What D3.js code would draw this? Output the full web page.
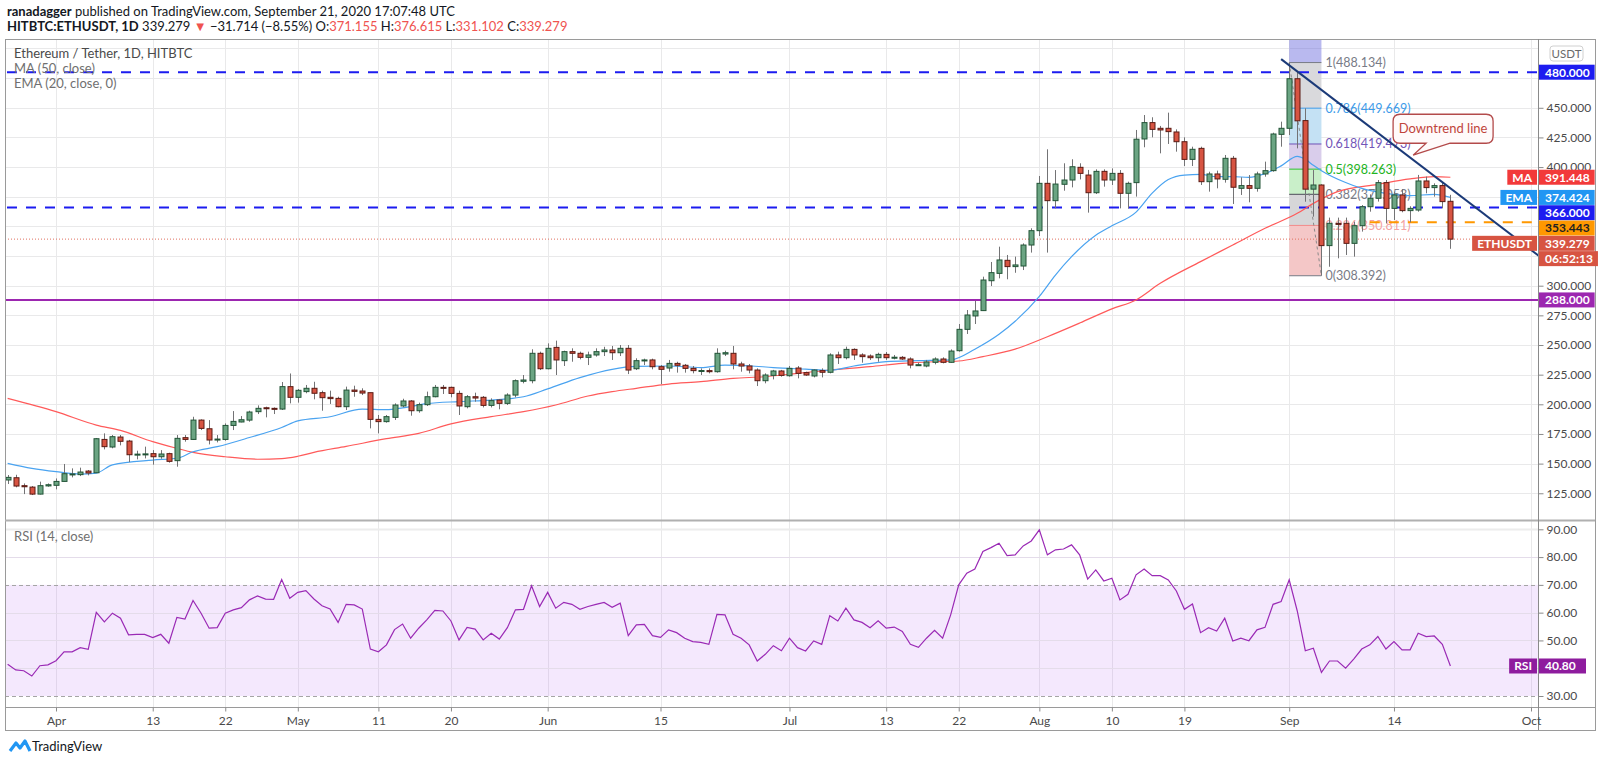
<!DOCTYPE html>
<html>
<head>
<meta charset="utf-8">
<script src="https://cdn.jsdelivr.net/npm/d3@7"></script>
<style>
  body { margin: 0; background: #fff; }
  svg { display: block; }
  text { font-family: Lato, "Open Sans", sans-serif; }
</style>
</head>
<body>
<svg id="chart" width="1600" height="763"></svg>
<script>
// ---- data (HITBTC ETH/USDT daily, 26 Mar - 21 Sep 2020) ----
const firstDay = "2020-03-26", lastDay = "2020-09-21";

const opens = [
  136.2, 138.1, 131.4, 130.2, 124.3, 131.2,
  131.7, 135.0, 141.0, 140.7, 143.7, 142.3, 170.4, 164.0, 172.4, 169.0, 157.5, 157.8, 158.4, 155.8, 158.4, 152.5, 171.9, 170.4, 186.7, 179.4, 170.4, 170.4, 182.2, 185.1, 186.7, 193.8, 197.1, 196.6, 196.0, 214.9,
  205.9, 210.7, 213.5, 209.8, 205.9, 205.0, 198.0, 212.0, 211.2, 209.8, 187.3, 185.4, 189.0, 198.6, 202.8, 194.6, 199.7, 206.4, 214.3, 214.3, 209.2, 198.0, 206.4, 205.9, 199.1, 203.6, 200.8, 207.8, 219.4, 219.9, 243.0,
  230.0, 248.0, 236.8, 244.4, 243.0, 239.6, 241.6, 244.4, 245.8, 243.5, 247.2, 230.0, 237.0, 237.4, 231.7, 230.6, 234.5, 232.9, 230.3, 228.4, 228.4, 227.5, 242.4, 243.0, 234.0, 232.3, 228.9, 219.9, 224.4, 228.1,
  224.1, 230.6, 226.7, 223.9, 228.4, 227.0, 241.6, 239.3, 246.3, 241.6, 240.7, 239.3, 242.1, 239.5, 239.6, 238.2, 233.1, 232.3, 235.4, 238.2, 235.4, 245.2, 263.2, 274.5, 279.0, 304.2, 310.4, 321.4, 316.1, 316.6, 334.3,
  346.4, 386.3, 371.7, 385.5, 389.1, 399.8, 393.3, 378.4, 396.4, 389.1, 394.7, 377.9, 386.9, 423.7, 437.5, 432.7, 432.7, 429.6, 421.4, 406.5, 415.8, 387.7, 394.2, 389.7, 407.4, 382.1, 384.4, 382.1, 394.2, 397.0, 427.6,
  432.7, 474.5, 439.2, 381.4, 384.9, 333.8, 352.6, 352.6, 335.7, 350.6, 366.6, 373.7, 386.9, 365.2, 376.5, 363.3, 363.8, 388.3, 382.7, 384.4, 371.155
];
const highs = [
  140.4, 140.6, 133.3, 131.1, 134.8, 133.3,
  137.5, 149.7, 146.0, 146.6, 144.6, 171.6, 175.5, 174.1, 174.1, 170.0, 160.9, 164.3, 161.4, 161.4, 159.2, 174.1, 174.1, 189.5, 187.3, 186.7, 174.1, 183.9, 194.3, 190.1, 194.6, 199.1, 198.0, 197.4, 218.8, 226.0,
  212.9, 216.3, 219.0, 211.5, 211.5, 206.4, 214.9, 215.7, 213.5, 209.8, 191.0, 191.0, 200.8, 204.7, 203.6, 201.4, 210.7, 216.3, 216.3, 214.9, 211.5, 207.8, 209.8, 207.0, 205.0, 204.2, 209.3, 221.0, 224.7, 246.4, 244.4,
  251.4, 253.7, 245.2, 247.2, 244.4, 244.4, 247.2, 248.5, 249.2, 250.0, 250.0, 238.8, 238.5, 238.5, 233.1, 237.4, 235.9, 234.0, 232.3, 230.3, 230.3, 247.2, 245.2, 249.2, 235.9, 234.0, 230.3, 226.1, 229.0, 229.0,
  232.3, 232.3, 227.5, 229.5, 230.3, 243.0, 244.4, 248.6, 247.2, 243.0, 242.1, 243.5, 244.1, 241.6, 240.7, 239.6, 235.1, 237.4, 239.6, 239.6, 246.3, 267.7, 279.5, 287.3, 307.6, 320.0, 332.9, 325.9, 324.5, 335.7, 348.4,
  392.5, 415.0, 397.5, 403.2, 406.6, 403.2, 397.6, 398.1, 398.1, 398.9, 397.5, 387.7, 431.3, 443.9, 442.0, 434.7, 445.9, 431.8, 425.1, 417.2, 417.2, 396.1, 397.0, 410.2, 409.4, 391.4, 393.3, 396.1, 404.6, 429.0, 438.3,
  488.134, 481.0, 449.5, 397.5, 385.5, 357.4, 357.4, 357.4, 354.0, 368.0, 377.0, 389.1, 389.1, 379.3, 381.5, 367.0, 393.4, 392.0, 386.3, 387.2, 376.615
];
const lows = [
  132.8, 130.0, 124.3, 123.5, 124.0, 130.5,
  128.3, 135.0, 138.4, 139.5, 140.1, 142.3, 162.0, 162.9, 165.4, 151.3, 153.6, 154.4, 149.1, 154.1, 150.8, 147.4, 168.5, 169.9, 178.3, 166.2, 167.9, 169.3, 178.3, 184.8, 185.3, 191.8, 189.0, 191.8, 195.2, 200.8,
  201.4, 209.3, 204.2, 194.6, 200.3, 197.5, 195.2, 206.4, 207.8, 179.7, 175.5, 184.5, 186.8, 197.5, 190.4, 192.9, 198.6, 205.9, 208.7, 205.9, 191.0, 196.6, 202.2, 197.4, 197.4, 195.8, 199.4, 205.9, 217.7, 217.7, 228.9,
  229.5, 224.7, 232.3, 235.9, 237.9, 233.1, 240.2, 240.7, 237.4, 240.7, 225.5, 228.9, 233.1, 229.5, 217.1, 227.5, 226.7, 226.7, 226.1, 224.7, 226.1, 226.7, 240.7, 229.5, 227.5, 226.1, 215.4, 217.7, 221.0, 223.3,
  223.3, 221.9, 223.9, 222.7, 222.7, 226.1, 234.0, 237.9, 237.4, 235.1, 237.4, 235.9, 237.4, 237.9, 237.4, 230.3, 232.3, 231.2, 233.7, 234.5, 235.1, 244.4, 259.3, 267.7, 278.7, 299.7, 306.2, 305.4, 310.9, 313.2, 327.9,
  341.9, 327.9, 365.2, 380.1, 382.9, 389.6, 361.6, 377.3, 383.5, 384.9, 365.2, 365.2, 375.1, 416.7, 425.1, 411.6, 419.5, 413.0, 400.9, 400.9, 384.9, 379.3, 382.1, 386.9, 368.9, 376.5, 370.3, 379.3, 391.9, 396.1, 417.2,
  427.0, 415.8, 370.8, 358.2, 308.392, 316.0, 323.1, 325.9, 324.5, 345.6, 362.4, 370.9, 352.6, 355.4, 361.9, 353.4, 362.4, 377.9, 375.1, 365.2, 331.102
];
const closes = [
  138.4, 131.1, 130.5, 124.3, 131.4, 132.2,
  135.0, 141.5, 141.3, 142.9, 142.1, 171.0, 164.3, 172.7, 168.8, 157.5, 158.0, 158.2, 155.8, 158.1, 151.9, 171.3, 170.4, 186.7, 179.7, 169.9, 170.7, 182.2, 185.6, 187.0, 193.5, 196.6, 196.3, 196.4, 214.9, 205.9,
  211.8, 213.5, 209.3, 205.6, 204.8, 198.0, 212.0, 210.9, 209.5, 187.3, 185.4, 189.6, 199.4, 202.8, 194.6, 199.7, 206.4, 214.3, 214.0, 209.2, 198.6, 206.4, 205.3, 199.1, 203.1, 200.8, 207.8, 219.9, 220.5, 243.0, 230.0,
  247.2, 237.4, 244.4, 243.0, 239.6, 241.6, 244.4, 245.8, 243.5, 247.2, 228.9, 236.8, 237.4, 231.7, 229.5, 234.5, 232.9, 230.3, 228.4, 228.5, 227.5, 243.0, 243.5, 234.0, 232.3, 228.9, 219.9, 224.7, 228.1, 224.4,
  230.3, 226.1, 224.7, 228.9, 227.0, 241.6, 239.3, 246.3, 241.6, 240.2, 239.3, 242.1, 239.3, 239.7, 238.2, 233.1, 233.4, 235.7, 238.2, 235.4, 244.9, 263.2, 275.3, 278.7, 304.8, 311.0, 321.7, 316.1, 317.5, 334.3, 346.4,
  386.3, 371.7, 385.7, 389.1, 400.3, 394.7, 378.4, 396.4, 389.1, 394.7, 377.9, 386.3, 423.5, 437.5, 431.8, 431.3, 429.9, 421.4, 406.5, 415.0, 387.7, 394.2, 390.0, 407.4, 383.0, 384.4, 382.1, 394.2, 397.0, 427.9, 432.7,
  474.5, 439.0, 381.4, 384.9, 333.8, 352.6, 351.7, 335.7, 350.6, 366.6, 373.7, 386.9, 365.2, 376.5, 363.3, 365.2, 388.3, 382.7, 384.4, 370.9, 339.279
];

// MA (50) and EMA (20) read at points along the drawn lines
const maDates = ["2020-03-26","2020-04-01","2020-04-06","2020-04-09","2020-04-13","2020-04-16","2020-04-18","2020-04-22","2020-04-26","2020-04-29",
  "2020-05-01","2020-05-03","2020-05-07","2020-05-12","2020-05-16","2020-05-20","2020-05-25","2020-05-29","2020-06-02","2020-06-06",
  "2020-06-09","2020-06-12","2020-06-16","2020-06-20","2020-06-24","2020-06-28","2020-07-02","2020-07-06","2020-07-11","2020-07-15",
  "2020-07-19","2020-07-22","2020-07-25","2020-07-29","2020-08-02","2020-08-06","2020-08-10","2020-08-13","2020-08-16","2020-08-21",
  "2020-08-25","2020-08-29","2020-09-02","2020-09-04","2020-09-07","2020-09-12","2020-09-16","2020-09-19","2020-09-21"];
const maValues = [205.0, 193.8, 182.5, 178.0, 168.5, 162.9, 159.5, 155.8, 153.7, 154.2,
  156.2, 159.5, 164.5, 171.0, 175.5, 183.5, 189.6, 193.8, 199.4, 207.0,
  210.7, 213.5, 217.1, 219.1, 221.9, 223.3, 226.1, 228.9, 231.7, 234.5,
  235.9, 236.5, 240.2, 246.5, 257.0, 268.5, 280.5, 288.0, 302.0, 320.3,
  334.3, 348.4, 361.0, 369.4, 379.3, 385.5, 390.0, 391.9, 391.448];

const emaDates = ["2020-03-26","2020-03-29","2020-04-01","2020-04-04","2020-04-06","2020-04-08","2020-04-13","2020-04-16","2020-04-18","2020-04-21",
  "2020-04-25","2020-04-29","2020-05-01","2020-05-05","2020-05-09","2020-05-12","2020-05-14","2020-05-17","2020-05-21","2020-05-25",
  "2020-05-29","2020-06-01","2020-06-05","2020-06-09","2020-06-12","2020-06-16","2020-06-20","2020-06-23","2020-06-26","2020-06-29",
  "2020-07-03","2020-07-06","2020-07-09","2020-07-13","2020-07-17","2020-07-21","2020-07-24","2020-07-27","2020-07-29","2020-08-01",
  "2020-08-03","2020-08-05","2020-08-08","2020-08-10","2020-08-13","2020-08-15","2020-08-17","2020-08-19","2020-08-21","2020-08-23",
  "2020-08-25","2020-08-27","2020-08-29","2020-08-31","2020-09-02","2020-09-03","2020-09-04","2020-09-05","2020-09-08","2020-09-10",
  "2020-09-13","2020-09-16","2020-09-19","2020-09-21"];
const emaValues = [150.2, 146.0, 143.2, 141.2, 142.0, 149.0, 153.0, 154.5, 160.0, 164.3,
  172.0, 180.5, 186.0, 189.5, 196.0, 195.5, 197.0, 200.5, 202.3, 203.6,
  206.4, 213.0, 222.5, 229.5, 231.9, 232.3, 231.0, 233.1, 232.5, 231.0,
  229.6, 228.6, 232.3, 236.0, 236.8, 237.5, 246.5, 259.0, 270.0, 291.0,
  309.0, 324.5, 342.5, 350.5, 362.0, 378.0, 389.5, 393.3, 393.9, 391.9,
  391.9, 391.4, 394.5, 401.0, 409.0, 406.5, 401.5, 397.0, 387.0, 382.0,
  377.9, 375.9, 377.0, 374.424];

// RSI (14, close), one value per candle
const rsiValues = [
  41.4, 39.4, 39.1, 37.2, 40.9, 41.2,
  42.7, 45.9, 45.9, 47.4, 46.8, 60.1, 56.7, 59.8, 58.0, 52.0, 52.2, 52.2, 51.0, 52.2, 49.0, 58.3, 57.7, 64.4, 59.8, 54.4, 54.6, 59.8, 61.0, 61.8, 64.6, 66.0, 64.9, 64.8, 71.9, 65.2,
  67.3, 67.9, 64.9, 62.5, 61.3, 56.5, 63.0, 62.8, 61.3, 46.9, 45.9, 48.4, 53.9, 55.9, 50.8, 54.4, 57.4, 60.8, 60.6, 57.0, 50.2, 54.7, 54.1, 50.2, 52.6, 50.5, 54.6, 61.0, 61.2, 69.7, 62.2,
  67.3, 61.6, 63.7, 63.0, 61.2, 62.2, 63.0, 63.7, 61.9, 63.4, 51.7, 55.6, 55.8, 51.7, 51.1, 53.8, 52.8, 50.8, 49.6, 49.3, 48.6, 59.4, 59.2, 52.2, 50.8, 48.4, 42.6, 45.0, 48.1, 46.3,
  50.8, 47.4, 46.2, 49.8, 48.6, 58.9, 57.0, 61.6, 57.4, 56.5, 54.6, 57.1, 54.4, 54.8, 53.2, 48.6, 47.5, 50.8, 53.6, 50.8, 59.2, 70.0, 74.2, 75.7, 82.0, 83.4, 85.0, 80.5, 80.8, 84.0, 85.8,
  89.8, 80.8, 82.6, 82.9, 84.4, 80.8, 72.1, 75.4, 71.4, 72.4, 64.6, 66.6, 73.6, 75.7, 73.3, 73.3, 71.8, 67.8, 61.2, 63.1, 52.8, 54.6, 53.4, 58.0, 49.8, 50.8, 49.9, 53.8, 54.7, 63.0, 64.0,
  71.8, 60.6, 46.3, 47.2, 38.5, 42.6, 42.6, 40.0, 43.3, 46.9, 48.4, 51.4, 46.9, 49.6, 46.6, 46.6, 52.6, 51.4, 51.6, 48.6, 40.8
];

// axes
const tickDates = ["2020-04-01","2020-04-13","2020-04-22","2020-05-01","2020-05-11","2020-05-20","2020-06-01","2020-06-15",
  "2020-07-01","2020-07-13","2020-07-22","2020-08-01","2020-08-10","2020-08-19","2020-09-01","2020-09-14","2020-10-01"];
const tickLabels = ["Apr","13","22","May","11","20","Jun","15","Jul","13","22","Aug","10","19","Sep","14","Oct"];
const priceTicks = [125, 150, 175, 200, 225, 250, 275, 300, 325, 350, 375, 400, 425, 450, 475, 500];
const rsiTicks = [30, 40, 50, 60, 70, 80, 90];

// drawings on the chart
const hLevels = [480, 366];
const supportLevel = 288;
const orangeLevel = 353.443, orangeFrom = "2020-09-11";
const lastPrice = 339.279, maLast = 391.448, emaLast = 374.424, rsiLast = 40.80;
const fibFrom = "2020-09-01", fibTo = "2020-09-05";
const fibRatios = ["1", "0.786", "0.618", "0.5", "0.382", "0.236", "0"];
const fibPrices = [488.134, 449.669, 419.473, 398.263, 377.053, 350.811, 308.392];
const trendDates = ["2020-08-31", "2020-10-02"];
const trendPrices = [491, 325];
const calloutDate = "2020-09-16", calloutPrice = 410;

// ---- layout ----
const parse = s => new Date(s + "T00:00:00Z");
const dates = d3.utcDay.range(parse(firstDay), d3.utcDay.offset(parse(lastDay), 1));

const paneL = 5, paneR = 1538, frameR = 1595, paneT = 39, paneB = 520, rsiB = 707, frameB = 730;
const FONT = "Lato, 'Open Sans', sans-serif";

const x = d3.scaleUtc().domain([parse("2020-04-01"), parse("2020-10-01")]).range([56, 1531]);
const y = d3.scaleLinear().domain([300, 480]).range([285.7, 72.2]);
const yR = d3.scaleLinear().domain([30, 90]).range([696, 529.3]);

const svg = d3.select("#chart");
const defs = svg.append("defs");
defs.append("clipPath").attr("id", "clipMain").append("rect")
  .attr("x", paneL).attr("y", paneT).attr("width", paneR - paneL).attr("height", paneB - paneT);
defs.append("clipPath").attr("id", "clipRsi").append("rect")
  .attr("x", paneL).attr("y", paneB).attr("width", paneR - paneL).attr("height", rsiB - paneB);
defs.append("clipPath").attr("id", "clipTop").append("rect")
  .attr("x", paneR).attr("y", paneT).attr("width", 12).attr("height", 20);

// header
const head = svg.append("g").attr("font-size", 13).attr("fill", "#131722");
const h1 = head.append("text").attr("x", 7).attr("y", 16);
h1.append("tspan").attr("font-weight", "bold").text("ranadagger");
h1.append("tspan").text(" published on TradingView.com, September 21, 2020 17:07:48 UTC");
const h2 = head.append("text").attr("x", 7).attr("y", 31);
const red = "#ef5350";
[["HITBTC:ETHUSDT, 1D", null, true], [" 339.279 ", null], ["\u25BC", red], [" \u221231.714 (\u22128.55%) O:", null], ["371.155", red],
 [" H:", null], ["376.615", red], [" L:", null], ["331.102", red], [" C:", null], ["339.279", red]]
  .forEach(([t, c, b]) => {
    const s = h2.append("tspan").text(t);
    if (c) s.attr("fill", c);
    if (b) s.attr("font-weight", "bold");
  });

// grids
const grid = svg.append("g").attr("stroke", "#e9e9ea").attr("stroke-width", 1);
grid.selectAll("line.v").data(tickDates).join("line")
  .attr("x1", d => Math.round(x(parse(d))) + 0.5).attr("x2", d => Math.round(x(parse(d))) + 0.5)
  .attr("y1", paneT).attr("y2", rsiB);
grid.selectAll("line.h").data(priceTicks.filter(v => y(v) > paneT && y(v) < paneB)).join("line")
  .attr("x1", paneL).attr("x2", paneR)
  .attr("y1", d => Math.round(y(d)) + 0.5).attr("y2", d => Math.round(y(d)) + 0.5);

// ---- main pane ----
const main = svg.append("g").attr("clip-path", "url(#clipMain)");

// fibonacci retracement
const fx0 = x(parse(fibFrom)), fx1 = x(parse(fibTo));
const fibFill = ["rgba(100,100,220,0.45)", "#d9d9dc", "#c4e1f4", "#d9cdeb", "#c9efc9", "#d6d6d8", "#f4c7c7"];
const fibLine = ["#787b86", "#3d9be9", "#6f52b5", "#2fc02f", "#4a4a55", "#f28b8b", "#787b86"];
const fibText = ["#787b86", "#3d9be9", "#7356b8", "#22b422", "#787b86", "#f4a3a3", "#787b86"];
const fibBands = fibPrices.map((p, i) => ({ top: i === 0 ? 1000 : fibPrices[i - 1], bottom: p, fill: fibFill[i] }));
main.selectAll("rect.fib").data(fibBands).join("rect")
  .attr("x", fx0).attr("width", fx1 - fx0)
  .attr("y", d => y(d.top)).attr("height", d => y(d.bottom) - y(d.top))
  .attr("fill", d => d.fill);
main.selectAll("line.fib").data(fibPrices).join("line")
  .attr("x1", fx0).attr("x2", fx1)
  .attr("y1", d => y(d)).attr("y2", d => y(d))
  .attr("stroke", (d, i) => fibLine[i]).attr("stroke-width", 1);
main.append("line")
  .attr("x1", fx0).attr("y1", y(fibPrices[0])).attr("x2", fx1).attr("y2", y(fibPrices[6]))
  .attr("stroke", "#8a8a8a").attr("stroke-dasharray", "3,3");
main.selectAll("text.fib").data(fibPrices).join("text")
  .attr("x", fx1 + 4).attr("y", d => y(d) + 4.5)
  .attr("font-size", 12.5).attr("fill", (d, i) => fibText[i])
  .text((d, i) => `${fibRatios[i]}(${d.toFixed(3)})`);

// horizontal levels
main.append("line").attr("x1", paneL).attr("x2", paneR)
  .attr("y1", y(lastPrice)).attr("y2", y(lastPrice))
  .attr("stroke", "#e07060").attr("stroke-dasharray", "1,2");
main.selectAll("line.lvl").data(hLevels).join("line")
  .attr("x1", paneL + 2).attr("x2", paneR)
  .attr("y1", d => y(d)).attr("y2", d => y(d))
  .attr("stroke", "#1c1cf0").attr("stroke-width", 2).attr("stroke-dasharray", "10,9");
main.append("line").attr("x1", paneL).attr("x2", paneR)
  .attr("y1", y(supportLevel)).attr("y2", y(supportLevel))
  .attr("stroke", "#9c27b0").attr("stroke-width", 2);
main.append("line").attr("x1", x(parse(orangeFrom))).attr("x2", paneR)
  .attr("y1", y(orangeLevel)).attr("y2", y(orangeLevel))
  .attr("stroke", "#ff9800").attr("stroke-width", 2).attr("stroke-dasharray", "10,9");

// moving averages
const curve = d3.line().x(d => x(d[0])).y(d => y(d[1])).curve(d3.curveMonotoneX);
main.append("path").datum(maDates.map((d, i) => [parse(d), maValues[i]]))
  .attr("d", curve).attr("fill", "none").attr("stroke", "#ff5a5a").attr("stroke-width", 1.2);
main.append("path").datum(emaDates.map((d, i) => [parse(d), emaValues[i]]))
  .attr("d", curve).attr("fill", "none").attr("stroke", "#4aa3f0").attr("stroke-width", 1.2);

// candles
const candles = dates.map((d, i) => ({ date: d, o: opens[i], h: highs[i], l: lows[i], c: closes[i], up: closes[i] >= opens[i] }));
const cx = d => Math.round(x(d.date)) + 0.5;
main.selectAll("line.wick").data(candles).join("line")
  .attr("x1", cx).attr("x2", cx)
  .attr("y1", d => y(d.h)).attr("y2", d => y(d.l))
  .attr("stroke", "#737375").attr("stroke-width", 1);
main.selectAll("rect.body").data(candles).join("rect")
  .attr("x", d => cx(d) - 2.5).attr("width", 5)
  .attr("y", d => y(Math.max(d.o, d.c)))
  .attr("height", d => Math.max(1, Math.abs(y(d.o) - y(d.c))))
  .attr("fill", d => d.up ? "#6ba583" : "#d75442")
  .attr("stroke", d => d.up ? "#225437" : "#5b1a13").attr("stroke-width", 1);

// downtrend line
main.append("line")
  .attr("x1", x(parse(trendDates[0]))).attr("y1", y(trendPrices[0]))
  .attr("x2", x(parse(trendDates[1]))).attr("y2", y(trendPrices[1]))
  .attr("stroke", "#1b3a78").attr("stroke-width", 2);

// callout
{
  const tx = x(parse(calloutDate)) + 3, ty = y(calloutPrice);
  const x0 = tx - 20, x1 = tx + 80, y0 = ty - 41, y1 = ty - 12, r = 7;
  const p = `M${x0 + r},${y0} H${x1 - r} Q${x1},${y0} ${x1},${y0 + r} V${y1 - r} Q${x1},${y1} ${x1 - r},${y1}
    H${tx + 37} L${tx},${ty} L${tx + 13},${y1} H${x0 + r} Q${x0},${y1} ${x0},${y1 - r} V${y0 + r} Q${x0},${y0} ${x0 + r},${y0} Z`;
  main.append("path").attr("d", p).attr("fill", "#fffafa").attr("stroke", "#b34a4a").attr("stroke-width", 1.3);
  main.append("text").attr("x", (x0 + x1) / 2).attr("y", (y0 + y1) / 2 + 4.5)
    .attr("text-anchor", "middle").attr("font-size", 13).attr("fill", "#c0443a").text("Downtrend line");
}

// legend
const leg = svg.append("g").attr("font-size", 13);
leg.append("text").attr("x", 14).attr("y", 58).attr("fill", "#4a4a4a").text("Ethereum / Tether, 1D, HITBTC");
leg.append("text").attr("x", 14).attr("y", 73).attr("fill", "#707070").text("MA (50, close)");
leg.append("text").attr("x", 14).attr("y", 88).attr("fill", "#707070").text("EMA (20, close, 0)");

// ---- RSI pane ----
const rsi = svg.append("g").attr("clip-path", "url(#clipRsi)");
rsi.append("rect").attr("x", paneL).attr("width", paneR - paneL)
  .attr("y", yR(70)).attr("height", yR(30) - yR(70)).attr("fill", "rgba(180,90,240,0.14)");
rsi.selectAll("line.rg").data([40, 50, 60, 80, 90]).join("line")
  .attr("x1", paneL).attr("x2", paneR)
  .attr("y1", d => Math.round(yR(d)) + 0.5).attr("y2", d => Math.round(yR(d)) + 0.5)
  .attr("stroke", d => d === 90 ? "#ececec" : "#e4dcea").attr("stroke-width", d => d === 90 ? 2 : 1);
rsi.selectAll("line.rb").data([70, 30]).join("line")
  .attr("x1", paneL).attr("x2", paneR)
  .attr("y1", d => Math.round(yR(d)) + 0.5).attr("y2", d => Math.round(yR(d)) + 0.5)
  .attr("stroke", "#a5a5a5").attr("stroke-dasharray", "4,3");
rsi.append("path").datum(rsiValues)
  .attr("d", d3.line().x((d, i) => x(dates[i])).y(d => yR(d)))
  .attr("fill", "none").attr("stroke", "#9a2ab5").attr("stroke-width", 1.2);
svg.append("text").attr("x", 14).attr("y", 541).attr("font-size", 13).attr("fill", "#707070").text("RSI (14, close)");

// ---- frame & axes ----
const frame = svg.append("g").attr("fill", "none");
frame.append("rect").attr("x", paneL + 0.5).attr("y", paneT + 0.5)
  .attr("width", frameR - paneL).attr("height", frameB - paneT).attr("stroke", "#9a9a9a");
frame.append("line").attr("x1", paneL).attr("x2", frameR).attr("y1", paneB + 0.5).attr("y2", paneB + 0.5)
  .attr("stroke", "#b0b0b0").attr("stroke-width", 2);
frame.append("line").attr("x1", paneL).attr("x2", frameR).attr("y1", rsiB + 0.5).attr("y2", rsiB + 0.5).attr("stroke", "#9a9a9a");
frame.append("line").attr("x1", paneR + 0.5).attr("x2", paneR + 0.5).attr("y1", paneT).attr("y2", frameB).attr("stroke", "#8a8a8a");

// tag positions on the price axis (stacked so they do not overlap)
const stack = [
  { v: maLast, text: maLast.toFixed(3), bg: "#f23a3a", fg: "#fff", side: "MA" },
  { v: emaLast, text: emaLast.toFixed(3), bg: "#2196f3", fg: "#fff", side: "EMA" },
  { v: 366, text: "366.000", bg: "#1c1cf0", fg: "#fff" },
  { v: orangeLevel, text: orangeLevel.toFixed(3), bg: "#ff9800", fg: "#222" },
  { v: lastPrice, text: lastPrice.toFixed(3), bg: "#d75442", fg: "#fff", side: "ETHUSDT" },
  { v: null, text: "06:52:13", bg: "#d75442", fg: "#fff" }
];
let prev = -Infinity;
stack.forEach(s => {
  s.y = s.v === null ? prev + 15.3 : Math.max(y(s.v), prev + 15.3);
  prev = s.y;
});
const tagYs = [y(480), y(supportLevel)].concat(stack.map(s => s.y));

const axisStyle = g => {
  g.select(".domain").remove();
  g.selectAll(".tick line").attr("stroke", "#8a8a8a");
  g.selectAll(".tick text").attr("fill", "#4a4a4a").attr("font-size", 12).attr("font-family", FONT);
};
// price labels hidden where a tag sits on them; 500 shows only a sliver beside the unit badge
const visibleTicks = priceTicks.filter(v => y(v) > paneT + 5 && y(v) < paneB && tagYs.every(t => Math.abs(t - y(v)) > 8));
svg.append("g").attr("transform", `translate(${paneR + 0.5},0)`)
  .call(d3.axisRight(y).tickValues(visibleTicks.filter(v => v !== 500)).tickSize(5).tickPadding(3).tickFormat(d => d.toFixed(3)))
  .call(axisStyle);
svg.append("g").attr("transform", `translate(${paneR + 0.5},0)`).attr("clip-path", "url(#clipTop)")
  .call(d3.axisRight(y).tickValues([500]).tickSize(5).tickPadding(3).tickFormat(d => d.toFixed(3)))
  .call(axisStyle);
svg.append("g").attr("transform", `translate(${paneR + 0.5},0)`)
  .call(d3.axisRight(yR).tickValues(rsiTicks).tickSize(5).tickPadding(3).tickFormat(d => d.toFixed(2)))
  .call(axisStyle);
svg.append("g").attr("transform", `translate(0,${rsiB + 0.5})`)
  .call(d3.axisBottom(x).tickValues(tickDates.map(parse)).tickSize(4).tickPadding(5)
    .tickFormat((d, i) => tickLabels[i]))
  .call(axisStyle);

// price tags
const tags = svg.append("g").attr("font-size", 12);
function tag(yy, text, bg, fg, side) {
  const g = tags.append("g").attr("transform", `translate(${paneR + 1},${yy})`);
  const box = g.append("rect").attr("x", 0).attr("y", -7.5).attr("height", 15).attr("fill", bg);
  const t = g.append("text").attr("x", 6).attr("y", 4.3).attr("fill", fg).attr("font-weight", "bold").text(text);
  box.attr("width", Math.max(47, t.node().getComputedTextLength() + 11));
  if (side) {
    const st = g.append("text").attr("y", 4.3).attr("fill", "#fff").attr("font-weight", "bold").text(side);
    const w = st.node().getComputedTextLength();
    st.attr("x", -w - 7);
    g.insert("rect", "text").attr("x", -w - 12).attr("y", -7.5).attr("width", w + 10).attr("height", 15).attr("fill", bg);
  }
}
// USDT unit badge
{
  const g = tags.append("g");
  g.append("rect").attr("x", 1550).attr("y", 46).attr("width", 33).attr("height", 15).attr("rx", 3)
    .attr("fill", "#fff").attr("stroke", "#d0d0d0");
  g.append("text").attr("x", 1566.5).attr("y", 57.5).attr("text-anchor", "middle").attr("fill", "#6a6a6a").attr("font-size", 11.5).text("USDT");
}
tag(y(480), "480.000", "#1c1cf0", "#fff");
tag(y(supportLevel), supportLevel.toFixed(3), "#9c27b0", "#fff");
stack.forEach(s => tag(s.y, s.text, s.bg, s.fg, s.side));
tag(yR(rsiLast), rsiLast.toFixed(2), "#8e1c9e", "#fff", "RSI");

// TradingView mark
{
  const g = svg.append("g").attr("transform", "translate(10,739)");
  g.append("path").attr("d", "M0,12 L6,4 L10,9 L15,2 L20,12")
    .attr("fill", "none").attr("stroke", "#2196f3").attr("stroke-width", 3.2).attr("stroke-linejoin", "round");
  g.append("text").attr("x", 22).attr("y", 12).attr("font-size", 13).attr("fill", "#131722").text("TradingView");
}
</script>
</body>
</html>
